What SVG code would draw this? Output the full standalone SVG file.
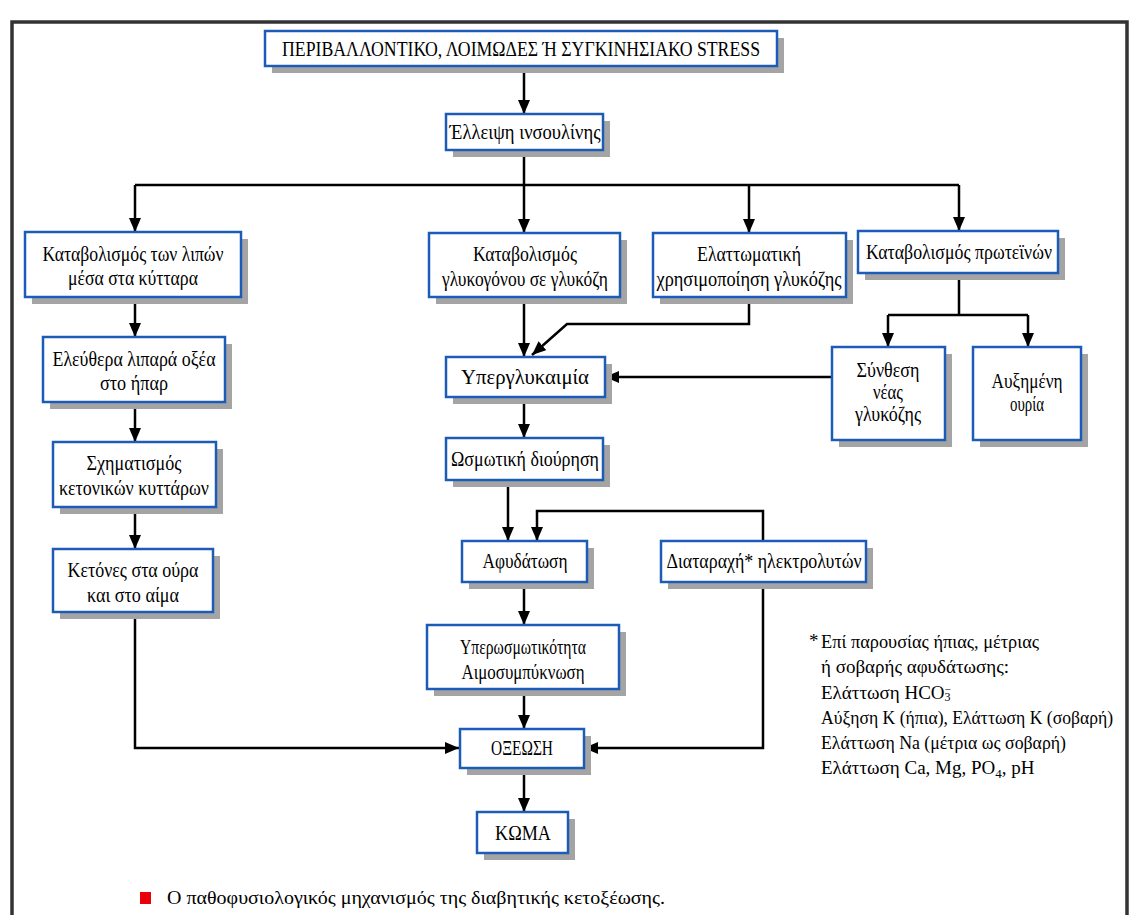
<svg xmlns="http://www.w3.org/2000/svg" width="1132" height="915" viewBox="0 0 1132 915">
<style>
.box{fill:#fff;stroke:#1d5cb6;stroke-width:2.5}
.sh{fill:#a4a4a4}
.t{font-family:"Liberation Serif","DejaVu Serif",serif;font-size:21px;fill:#000;text-anchor:middle}
.n{font-family:"Liberation Serif","DejaVu Serif",serif;font-size:19px;fill:#000}
.c{stroke:#000;stroke-width:2.5;fill:none}
</style>
<defs>
<marker id="ah" markerUnits="userSpaceOnUse" markerWidth="14" markerHeight="12" refX="14" refY="6" orient="auto">
<path d="M0,0 L14,6 L0,12 z" fill="#000"/>
</marker>
</defs>
<rect width="1132" height="915" fill="#fff"/>
<path d="M12,915 V22 H1127 V915" fill="none" stroke="#333" stroke-width="3.5"/>

<g id="connectors">
<path class="c" d="M524,66 V114" marker-end="url(#ah)"/>
<path class="c" d="M524,150 V185 M135,185 H959"/>
<path class="c" d="M135,185 V232" marker-end="url(#ah)"/>
<path class="c" d="M524,185 V233" marker-end="url(#ah)"/>
<path class="c" d="M749,185 V233" marker-end="url(#ah)"/>
<path class="c" d="M959,185 V231" marker-end="url(#ah)"/>
<path class="c" d="M135,297 V337" marker-end="url(#ah)"/>
<path class="c" d="M135,402 V442" marker-end="url(#ah)"/>
<path class="c" d="M135,507 V549" marker-end="url(#ah)"/>
<path class="c" d="M135,612 V748 H459" marker-end="url(#ah)"/>
<path class="c" d="M524,297 V357" marker-end="url(#ah)"/>
<path class="c" d="M749,297 V324 H567 L532,355" marker-end="url(#ah)"/>
<path class="c" d="M959,273 V315 M888,315 H1028"/>
<path class="c" d="M888,315 V347" marker-end="url(#ah)"/>
<path class="c" d="M1028,315 V347" marker-end="url(#ah)"/>
<path class="c" d="M832,377 H605" marker-end="url(#ah)"/>
<path class="c" d="M524,397 V438" marker-end="url(#ah)"/>
<path class="c" d="M508,480 V541" marker-end="url(#ah)"/>
<path class="c" d="M763,541 V511 H537 V541" marker-end="url(#ah)"/>
<path class="c" d="M763,582 V748 H584" marker-end="url(#ah)"/>
<path class="c" d="M524,582 V625" marker-end="url(#ah)"/>
<path class="c" d="M524,689 V729" marker-end="url(#ah)"/>
<path class="c" d="M524,768 V812" marker-end="url(#ah)"/>
</g>

<g id="n-stress"><rect class="sh" x="272" y="38" width="512" height="35"/><rect class="box" x="265" y="31" width="512" height="35"/><text class="t" x="521" y="56" font-size="22" textLength="478" lengthAdjust="spacingAndGlyphs">ΠΕΡΙΒΑΛΛΟΝΤΙΚΟ, ΛΟΙΜΩΔΕΣ Ή ΣΥΓΚΙΝΗΣΙΑΚΟ STRESS</text></g>
<g id="n-insulin"><rect class="sh" x="453" y="121" width="157" height="36"/><rect class="box" x="446" y="114" width="157" height="36"/><text class="t" x="525" y="139" font-size="20" textLength="151" lengthAdjust="spacingAndGlyphs">Έλλειψη ινσουλίνης</text></g>

<g id="n-fat"><rect class="sh" x="32" y="239" width="216" height="65"/><rect class="box" x="25" y="232" width="216" height="65"/><text class="t" x="133" y="261" textLength="181" lengthAdjust="spacingAndGlyphs">Καταβολισμός των λιπών</text><text class="t" x="133" y="285" textLength="130" lengthAdjust="spacingAndGlyphs">μέσα στα κύτταρα</text></g>
<g id="n-ffa"><rect class="sh" x="50" y="344" width="182" height="65"/><rect class="box" x="43" y="337" width="182" height="65"/><text class="t" x="134" y="366" textLength="163" lengthAdjust="spacingAndGlyphs">Ελεύθερα λιπαρά οξέα</text><text class="t" x="134" y="390" textLength="68" lengthAdjust="spacingAndGlyphs">στο ήπαρ</text></g>
<g id="n-ketform"><rect class="sh" x="60" y="449" width="163" height="65"/><rect class="box" x="53" y="442" width="163" height="65"/><text class="t" x="134" y="470" textLength="95" lengthAdjust="spacingAndGlyphs">Σχηματισμός</text><text class="t" x="134" y="495" textLength="150" lengthAdjust="spacingAndGlyphs">κετονικών κυττάρων</text></g>
<g id="n-ketones"><rect class="sh" x="60" y="556" width="160" height="63"/><rect class="box" x="53" y="549" width="160" height="63"/><text class="t" x="133" y="577" textLength="131" lengthAdjust="spacingAndGlyphs">Κετόνες στα ούρα</text><text class="t" x="133" y="602" textLength="92" lengthAdjust="spacingAndGlyphs">και στο αίμα</text></g>

<g id="n-glycogen"><rect class="sh" x="436" y="240" width="191" height="64"/><rect class="box" x="429" y="233" width="191" height="64"/><text class="t" x="525" y="261" textLength="104" lengthAdjust="spacingAndGlyphs">Καταβολισμός</text><text class="t" x="525" y="286" textLength="166" lengthAdjust="spacingAndGlyphs">γλυκογόνου σε γλυκόζη</text></g>
<g id="n-defective"><rect class="sh" x="660" y="240" width="193" height="64"/><rect class="box" x="653" y="233" width="193" height="64"/><text class="t" x="749" y="261" textLength="104" lengthAdjust="spacingAndGlyphs">Ελαττωματική</text><text class="t" x="749" y="286" textLength="185" lengthAdjust="spacingAndGlyphs">χρησιμοποίηση γλυκόζης</text></g>
<g id="n-protein"><rect class="sh" x="865" y="238" width="200" height="42"/><rect class="box" x="858" y="231" width="200" height="42"/><text class="t" x="959" y="259" textLength="186" lengthAdjust="spacingAndGlyphs">Καταβολισμός πρωτεϊνών</text></g>
<g id="n-synth"><rect class="sh" x="839" y="354" width="113" height="93"/><rect class="box" x="832" y="347" width="113" height="93"/><text class="t" x="888" y="377" textLength="63" lengthAdjust="spacingAndGlyphs">Σύνθεση</text><text class="t" x="888" y="399" textLength="30" lengthAdjust="spacingAndGlyphs">νέας</text><text class="t" x="888" y="421" textLength="66" lengthAdjust="spacingAndGlyphs">γλυκόζης</text></g>
<g id="n-urea"><rect class="sh" x="980" y="354" width="108" height="93"/><rect class="box" x="973" y="347" width="108" height="93"/><text class="t" x="1027" y="388" textLength="71" lengthAdjust="spacingAndGlyphs">Αυξημένη</text><text class="t" x="1027" y="411" textLength="34" lengthAdjust="spacingAndGlyphs">ουρία</text></g>

<g id="n-hyperglyc"><rect class="sh" x="453" y="364" width="159" height="40"/><rect class="box" x="446" y="357" width="159" height="40"/><text class="t" x="525" y="384" textLength="128" lengthAdjust="spacingAndGlyphs">Υπεργλυκαιμία</text></g>
<g id="n-osmotic"><rect class="sh" x="453" y="445" width="157" height="42"/><rect class="box" x="446" y="438" width="157" height="42"/><text class="t" x="525" y="466" textLength="148" lengthAdjust="spacingAndGlyphs">Ωσμωτική διούρηση</text></g>
<g id="n-dehyd"><rect class="sh" x="469" y="548" width="125" height="41"/><rect class="box" x="462" y="541" width="125" height="41"/><text class="t" x="525" y="568" textLength="85" lengthAdjust="spacingAndGlyphs">Αφυδάτωση</text></g>
<g id="n-electro"><rect class="sh" x="668" y="548" width="205" height="41"/><rect class="box" x="661" y="541" width="205" height="41"/><text class="t" x="764" y="568" textLength="195" lengthAdjust="spacingAndGlyphs">Διαταραχή* ηλεκτρολυτών</text></g>
<g id="n-hyperosm"><rect class="sh" x="434" y="632" width="192" height="64"/><rect class="box" x="427" y="625" width="192" height="64"/><text class="t" x="523" y="654" textLength="126" lengthAdjust="spacingAndGlyphs">Υπερωσμωτικότητα</text><text class="t" x="523" y="679" textLength="123" lengthAdjust="spacingAndGlyphs">Αιμοσυμπύκνωση</text></g>
<g id="n-acidosis"><rect class="sh" x="467" y="736" width="124" height="39"/><rect class="box" x="460" y="729" width="124" height="39"/><text class="t" x="522" y="755" font-size="20" textLength="62" lengthAdjust="spacingAndGlyphs">ΟΞΕΩΣΗ</text></g>
<g id="n-coma"><rect class="sh" x="484" y="819" width="91" height="41"/><rect class="box" x="477" y="812" width="91" height="41"/><text class="t" x="523" y="840" font-size="20" textLength="56" lengthAdjust="spacingAndGlyphs">ΚΩΜΑ</text></g>

<g id="note">
<text class="n" x="809" y="647">*</text>
<text class="n" x="821" y="648" textLength="218" lengthAdjust="spacingAndGlyphs">Επί παρουσίας ήπιας, μέτριας</text>
<text class="n" x="821" y="673" textLength="188" lengthAdjust="spacingAndGlyphs">ή σοβαρής αφυδάτωσης:</text>
<text class="n" x="821" y="699">Ελάττωση HCO<tspan font-size="12" dy="2">3</tspan><tspan font-size="11" dx="-6" dy="-8">−</tspan></text>
<text class="n" x="821" y="724" textLength="292" lengthAdjust="spacingAndGlyphs">Αύξηση Κ (ήπια), Ελάττωση Κ (σοβαρή)</text>
<text class="n" x="821" y="749" textLength="245" lengthAdjust="spacingAndGlyphs">Ελάττωση Na (μέτρια ως σοβαρή)</text>
<text class="n" x="821" y="774">Ελάττωση Ca, Mg, PO<tspan font-size="13" dy="4">4</tspan><tspan dy="-4">, pH</tspan></text>
</g>

<g id="caption">
<rect x="140" y="892" width="11" height="12" fill="#e8000b"/>
<text class="n" x="167" y="904" font-size="21" textLength="498" lengthAdjust="spacingAndGlyphs">Ο παθοφυσιολογικός μηχανισμός της διαβητικής κετοξέωσης.</text>
</g>
</svg>
